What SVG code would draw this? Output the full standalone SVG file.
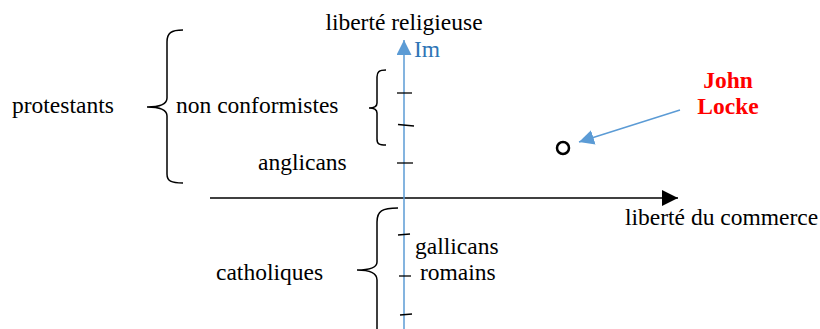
<svg xmlns="http://www.w3.org/2000/svg" width="820" height="329" viewBox="0 0 820 329">
<defs>
<style>
text{font-family:"Liberation Serif","Times New Roman",serif;font-size:23.5px;fill:#000}
.blue{fill:#2E75B6}
.red{fill:#FF0000;font-weight:bold}
.brace{fill:none;stroke:#000;stroke-width:1.5}
.tick{stroke:#000;stroke-width:1.3}
</style>
<marker id="ah-black" viewBox="0 0 10 10" refX="10" refY="5" markerWidth="16" markerHeight="16" markerUnits="userSpaceOnUse" orient="auto"><path d="M0,0 L10,5 L0,10 z" fill="#000"/></marker>
<marker id="ah-blue" viewBox="0 0 10 10" refX="10" refY="5" markerWidth="15" markerHeight="15" markerUnits="userSpaceOnUse" orient="auto"><path d="M0,0 L10,5 L0,10 z" fill="#5B9BD5"/></marker>
</defs>
<rect width="820" height="329" fill="#fff"/>
<g id="connectors">
<line x1="210" y1="198" x2="678" y2="198" stroke="#000" stroke-width="1.5" marker-end="url(#ah-black)"/>
<line x1="404" y1="329" x2="404" y2="40" stroke="#5B9BD5" stroke-width="1.5" marker-end="url(#ah-blue)"/>
<line x1="680" y1="110" x2="579" y2="142" stroke="#5B9BD5" stroke-width="1.5" marker-end="url(#ah-blue)"/>
</g>
<g id="ticks">
<line class="tick" x1="397" y1="93" x2="412" y2="93"/>
<line class="tick" x1="398" y1="124.5" x2="414" y2="126"/>
<line class="tick" x1="397" y1="163" x2="413" y2="163"/>
<line class="tick" x1="398" y1="235" x2="410" y2="234"/>
<line class="tick" x1="399" y1="276" x2="411" y2="276"/>
<line class="tick" x1="400" y1="315" x2="412" y2="314"/>
</g>
<g id="axis-labels">
<text x="404" y="30" text-anchor="middle">liberté religieuse</text>
<text class="blue" x="414" y="57">Im</text>
<text x="625" y="225">liberté du commerce</text>
</g>
<g id="protestants">
<path class="brace" d="M183,30 C171,30 167,33 167,42 L167,98 C167,104 161,107 147,107 C161,107 167,110 167,116 L167,174 C167,181 171,183 183,183"/>
<text x="12" y="113">protestants</text>
</g>
<g id="non-conformistes">
<path class="brace" d="M386,70 C379,70 377,72 377,77 L377,103 C377,106 374,108 369,108 C374,108 377,110 377,113 L377,139 C377,144 379,145 386,145"/>
<text x="176" y="113">non conformistes</text>
</g>
<g id="anglicans">
<text x="258" y="170">anglicans</text>
</g>
<g id="catholiques">
<path class="brace" d="M398,208 C382,208 377,211 377,222 L377,262 C377,267 371,270 357,270 C371,270 377,273 377,280 L377,329"/>
<text x="216" y="280">catholiques</text>
</g>
<g id="gallicans">
<text x="415" y="254">gallicans</text>
</g>
<g id="romains">
<text x="420" y="280">romains</text>
</g>
<g id="john-locke">
<circle cx="563" cy="148" r="6" fill="none" stroke="#000" stroke-width="2.5"/>
<text class="red" x="728" y="88" text-anchor="middle">John</text>
<text class="red" x="728" y="114" text-anchor="middle">Locke</text>
</g>
</svg>
